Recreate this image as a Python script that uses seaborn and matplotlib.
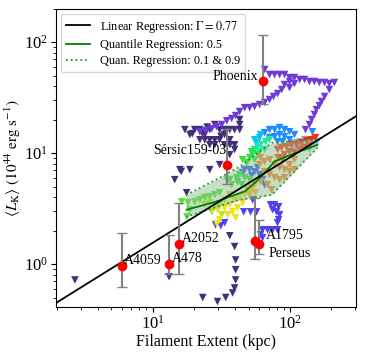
import numpy as np
import pandas as pd
import matplotlib
matplotlib.use('Agg')
import matplotlib.pyplot as plt
import seaborn as sns

plt.rcParams['font.family'] = ['Liberation Serif', 'DejaVu Serif']
plt.rcParams['mathtext.fontset'] = 'stix'

# observed clusters (red points with error bars)
cluster_names = ['A4059', 'A478', 'A2052', 'Sérsic159-03', 'Phoenix', 'A1795', 'Perseus']
cluster_extent = [6.0, 13.2, 15.5, 35.1, 63.3, 55.4, 59.5]
cluster_lk = [0.97, 1.01, 1.52, 7.9, 45.1, 1.63, 1.52]
cluster_lk_low = [0.62, 0.82, 0.82, 5.3, 27.6, 1.12, 1.24]
cluster_lk_high = [1.89, 1.83, 3.55, 16.5, 116, 3.94, 2.51]
label_offsets = [(1, 4), (2, 4), (2, 4), (-1, 10), (-3, 3), (8, 4), (7, -7)]
label_ha = ['left', 'left', 'left', 'right', 'right', 'left', 'left']

# simulation tracks, grouped by colour
dark_x = [17.2, 18.7, 20.3, 22.1, 24.0, 26.1, 28.4, 30.8, 33.5, 36.5, 39.6, 43.1,
          22.1, 24.0, 26.1, 28.4, 30.8, 26.1, 28.4, 33.5, 36.5, 39.6, 39.6, 36.5,
          43.1, 43.1, 33.5, 36.5, 19.5, 23.0, 31.5, 25.0,
          15.8, 18.7, 26.1, 30.8, 14.5, 2.72, 13.2, 17.7, 16.2,
          36.5, 39.6, 40.3, 40.3, 40.3, 39.6, 38.3, 34.1, 29.7, 23.2]
dark_y = [16.3, 14.7, 16.3, 16.3, 14.7, 16.3, 18.1, 16.3, 16.3, 16.3, 16.3, 16.3,
          13.2, 13.2, 13.2, 13.2, 13.2, 11.9, 11.9, 11.9, 11.9, 11.9, 10.8, 9.69,
          20.1, 18.1, 14.7, 13.2, 15.0, 15.2, 14.2, 17.2,
          7.10, 7.10, 7.10, 7.88, 5.77, 0.72, 0.77, 4.4, 6.85,
          1.80, 1.44, 1.09, 0.89, 0.72, 0.61, 0.55, 0.50, 0.46, 0.50]

phoenix_x = [65.5, 71.2, 77.4, 84.2, 91.5, 99.5, 108, 118, 128, 139, 151, 164, 179, 194, 211,
             194, 179, 170, 164, 156, 151, 144, 139, 130,
             91.5, 99.5, 108, 99.5, 87.2, 81.5, 76.1, 71.2, 65.5, 60.2, 55.4, 51.0, 46.9,
             43.1, 40.3, 37.7, 34.7, 31.9, 29.3, 27.0, 24.4, 22.1]
phoenix_y = [56.7, 51.1, 51.1, 51.1, 51.1, 48.0, 48.0, 46.1, 46.1, 44.2, 44.2, 43.3, 43.3, 42.4, 43.3,
             37.4, 32.4, 29.2, 26.8, 24.7, 22.3, 20.1, 18.1, 16.3,
             41.5, 44.2, 42.4, 39.0, 37.4, 34.4, 32.4, 30.4, 28.6, 27.4, 26.3, 25.7, 25.7,
             23.7, 21.8, 20.5, 19.6, 18.1, 17.3, 16.6, 16.0, 15.6]

violet_x = [72.4, 77.4, 82.8, 74.9, 80.1, 84.2, 82.8, 81.4, 63.3, 68.8, 74.9, 81.4, 61.2, 63.3,
            46.1, 51.8, 53.6, 33.5, 31.4, 28.8, 57.3]
violet_y = [3.43, 3.43, 3.29, 3.09, 2.96, 2.79, 2.51, 2.36, 2.04, 2.04, 2.04, 2.04, 1.84, 1.73,
            2.96, 2.96, 3.80, 2.36, 2.22, 2.26, 2.96]

blue_x = [46.9, 51.0, 55.4, 60.2, 63.3, 65.5, 45.3, 52.7, 58.3]
blue_y = [7.10, 7.10, 6.81, 6.40, 5.77, 5.20, 6.67, 6.27, 7.40]

dodger_x = [65.5, 71.2, 77.4, 84.2, 91.5, 99.5, 77.4, 84.2, 91.5, 71.2, 81.4, 88.5, 99.5, 108, 146]
dodger_y = [15.3, 16.3, 16.3, 17.0, 16.3, 15.6, 14.1, 14.7, 14.1, 13.8, 12.7, 12.7, 13.2, 14.7, 15.6]

cyan_x = [55.4, 60.2, 61.2, 58.0]
cyan_y = [13.2, 13.8, 14.7, 12.4]

lightblue_x = [99.5, 108, 118, 128, 139, 151, 118, 128, 139, 151, 159, 108]
lightblue_y = [11.9, 12.4, 12.7, 13.2, 13.2, 13.8, 11.2, 11.4, 10.8, 11.9, 12.7, 10.8]

red_x = [81.4, 87.0, 94.6, 102.9, 111.9, 121.6, 132.3, 143.8, 153.8, 84.2, 91.5, 99.5, 108, 118, 128, 88.5, 139]
red_y = [10.8, 11.2, 11.4, 11.9, 11.9, 12.4, 13.0, 13.2, 13.8, 9.11, 9.69, 10.3, 10.1, 10.8, 11.2, 8.74, 11.7]

orange_x = [60.2, 65.5, 71.2, 77.4, 84.2, 91.5, 99.5, 108, 65.5, 71.2, 77.4, 84.2, 91.5, 68.8, 73.6,
            61.2, 99.5, 61.2, 81.4, 108]
orange_y = [7.88, 8.38, 8.74, 7.88, 7.40, 7.10, 7.88, 8.74, 6.81, 6.40, 6.01, 5.77, 6.01, 5.20, 4.68,
            5.53, 6.81, 9.11, 9.11, 7.10]

spring_x = [55.4, 58.3, 61.2, 66.6, 71.2, 60.2, 65.5, 53.6]
spring_y = [10.8, 11.4, 11.9, 12.7, 13.2, 10.3, 10.8, 9.69]

green_x = [45.3, 48.6, 51.0, 43.1, 46.9, 51.0, 41.7, 44.6, 55.4, 58.3, 52.7, 36.5, 41.0]
green_y = [8.74, 8.21, 9.11, 6.40, 6.01, 5.77, 5.53, 5.20, 8.74, 9.69, 10.3, 5.77, 6.01]

lime_x = [16.3, 18.1, 20.3, 22.1, 24.0, 26.1, 17.8, 18.7, 34.7, 37.7, 28.4, 30.8]
lime_y = [3.65, 3.57, 3.65, 3.80, 3.97, 4.05, 2.67, 3.09, 5.77, 5.20, 4.22, 4.40]

yellowgreen_x = [24.0, 26.1, 28.4, 30.8, 33.5, 27.0, 31.9, 36.5]
yellowgreen_y = [3.43, 3.57, 3.29, 3.43, 3.80, 2.96, 2.79, 4.22]

yellow_x = [29.9, 33.5, 36.5, 39.6, 43.1, 46.9, 35.3, 38.3, 41.7, 30.8, 29.4, 45.3, 51.0, 40.3]
yellow_y = [3.09, 3.22, 3.43, 3.80, 4.05, 4.22, 2.79, 2.96, 3.22, 2.51, 2.31, 3.57, 4.49, 2.62]

gold_x = [49.3, 52.7, 55.4, 51.0, 56.3]
gold_y = [4.68, 4.88, 5.20, 4.22, 4.40]

# regression results
gamma = 0.77
norm = 0.264
q50_x = [17.7, 28.4, 46.9, 55.4, 65.5, 77.4, 102, 159]
q50_y = [3.09, 3.63, 4.52, 5.38, 6.63, 8.43, 9.69, 11.9]
band_x = [17.5, 30, 43, 60, 74, 100, 159]
band_hi = [4.2, 5.9, 7.55, 10.3, 12.4, 12.8, 13.5]
band_lo = [2.67, 3.31, 3.80, 4.05, 4.22, 6.2, 11.2]

groups = {
    'dark': (dark_x, dark_y, '#43307a'),
    'phoenix': (phoenix_x, phoenix_y, '#6e3ad8'),
    'violet': (violet_x, violet_y, '#5040f0'),
    'blue': (blue_x, blue_y, '#2050ff'),
    'dodger': (dodger_x, dodger_y, '#1e8cff'),
    'cyan': (cyan_x, cyan_y, '#10c0f0'),
    'lightblue': (lightblue_x, lightblue_y, '#80c4f0'),
    'spring': (spring_x, spring_y, '#20e8a0'),
    'green': (green_x, green_y, '#30e040'),
    'lime': (lime_x, lime_y, '#50e830'),
    'yellowgreen': (yellowgreen_x, yellowgreen_y, '#b8e820'),
    'yellow': (yellow_x, yellow_y, '#f0e020'),
    'gold': (gold_x, gold_y, '#ffb020'),
    'orange': (orange_x, orange_y, '#ff8020'),
    'red': (red_x, red_y, '#ff2a10'),
}
frames = []
for name, (gx, gy, _) in groups.items():
    frames.append(pd.DataFrame({'extent': gx, 'lk': gy, 'group': name}))
tracks = pd.concat(frames, ignore_index=True)
palette = {name: g[2] for name, g in groups.items()}

fig, ax = plt.subplots(figsize=(3.66, 3.53), dpi=100)
fig.subplots_adjust(left=0.153, right=0.973, bottom=0.130, top=0.975)

sns.scatterplot(data=tracks, x='extent', y='lk', hue='group', palette=palette,
                marker='v', s=30, linewidth=0, legend=False, ax=ax, zorder=2)

ax.set_xscale('log')
ax.set_yscale('log')
xlim = (1.98, 304)
ax.set_xlim(xlim)
ax.set_ylim(0.41, 200)

ax.fill_between(band_x, band_lo, band_hi, color='darkseagreen', alpha=0.5, lw=0, zorder=3)
ax.plot(band_x, band_hi, ls=':', color='#1fa01f', lw=1.3, zorder=4)
ax.plot(band_x, band_lo, ls=':', color='#1fa01f', lw=1.3, zorder=4)
ax.plot(q50_x, q50_y, color='green', lw=1.3, zorder=4)

line_x = np.array(xlim)
ax.plot(line_x, norm * line_x ** gamma, color='k', lw=1.3, zorder=5)

yerr = [np.array(cluster_lk) - np.array(cluster_lk_low),
        np.array(cluster_lk_high) - np.array(cluster_lk)]
eb = ax.errorbar(cluster_extent, cluster_lk, yerr=yerr, fmt='o', color='red', ms=6,
                 ecolor='gray', elinewidth=1.5, capsize=3.5, zorder=6)
for cap in eb[1]:
    cap.set_color('#404040')

for name, x, y, off, ha in zip(cluster_names, cluster_extent, cluster_lk, label_offsets, label_ha):
    ax.annotate(name, (x, y), xytext=off, textcoords='offset points', ha=ha, va='center',
                fontsize=10, zorder=7)

handles = [
    plt.Line2D([], [], color='k', lw=1.3),
    plt.Line2D([], [], color='green', lw=1.3),
    plt.Line2D([], [], color='#1fa01f', lw=1.3, ls=':'),
]
labels = [r'Linear Regression: $\Gamma=0.77$', 'Quantile Regression: 0.5',
          'Quan. Regression: 0.1 & 0.9']
ax.legend(handles, labels, loc='upper left', fontsize=8.8, labelspacing=0.35,
          borderaxespad=0.4)

ax.set_xlabel('Filament Extent (kpc)', fontsize=11.5, labelpad=1)
ax.set_ylabel(r'$\langle L_{\rm K}\rangle\ (10^{44}\ {\rm erg\ s^{-1}})$', fontsize=11, labelpad=1)
ax.tick_params(labelsize=12, pad=2)

fig.savefig('out.png', dpi=100)
